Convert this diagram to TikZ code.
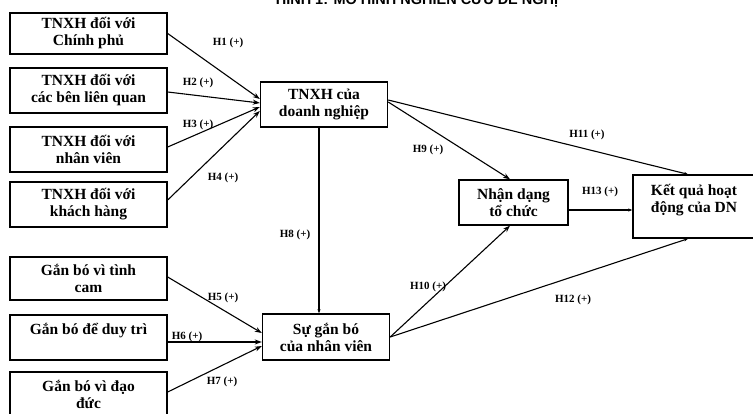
\documentclass[tikz,border=0pt]{standalone}
\usepackage{fontspec}
\setmainfont{Liberation Serif}
\setsansfont{Liberation Sans}
\usetikzlibrary{arrows.meta}
\tikzset{
  box/.style={draw, line width=1.4pt, rectangle, inner sep=0pt, align=center,
    font=\bfseries\fontsize{15.5}{17}\selectfont},
  lbox/.style={box, minimum width=157pt},
  lab/.style={font=\bfseries\fontsize{11}{12}\selectfont, inner sep=0pt},
  arr/.style={line width=1.1pt, -{Stealth[length=7pt,width=5pt]}},
  sarr/.style={line width=1.1pt, -{Stealth[length=4pt,width=3pt]}},
}
\begin{document}
\begin{tikzpicture}[x=1pt,y=-1pt]
\useasboundingbox[fill=white] (0,0) rectangle (753,414);
% title (cut at top, as in the reference)
\node[anchor=base, font=\sffamily\bfseries\fontsize{14.5}{17}\selectfont, inner sep=0pt] (title) at (417,5) {HÌNH 1: MÔ HÌNH NGHIÊN CỨU ĐỀ NGHỊ};
% left boxes
\node[lbox, minimum height=41pt] (b1) at (88.5,33.5) {TNXH đối với\\Chính phủ};
\node[lbox, minimum height=45pt] (b2) at (88.5,90.5) {TNXH đối với\\các bên liên quan};
\node[lbox, minimum height=45pt] (b3) at (88.5,149.5) {TNXH đối với\\nhân viên};
\node[lbox, minimum height=45pt] (b4) at (88.5,204.5) {TNXH đối với\\khách hàng};
\node[lbox, minimum height=43pt] (b5) at (88.5,278.5) {Gắn bó vì tình\\cam};
\node[lbox, minimum height=45pt] (b6) at (88.5,337.5) {Gắn bó để duy trì\\\mbox{}};
\node[lbox, minimum height=44pt] (b7) at (88.5,394) {Gắn bó vì đạo\\đức};
% middle
\node[box, minimum width=127pt, minimum height=45pt] (tn) at (324,104.5) {TNXH của\\doanh nghiệp};
\node[box, minimum width=127pt, minimum height=46pt] (sg) at (326,337) {Sự gắn bó\\của nhân viên};
\node[box, minimum width=109pt, minimum height=45pt] (nd) at (513.5,202.5) {Nhận dạng\\tổ chức};
\node[box, minimum width=122pt, minimum height=63pt] (kq) at (694,206.5) {Kết quả hoạt\\động của DN\\\mbox{}};
% arrows
\draw[arr] (b1.east) -- ([yshift=5.5pt]tn.west);
\draw[arr] ([yshift=-1.5pt]b2.east) -- ([yshift=1.5pt]tn.west);
\draw[arr] ([yshift=2.5pt]b3.east) -- ([yshift=-2.5pt]tn.west);
\draw[arr] ([yshift=4.5pt]b4.east) -- ([yshift=-6.5pt]tn.west);
\draw[arr] ([yshift=1.5pt]b5.east) -- ([yshift=4pt]sg.west);
\draw[arr] ([yshift=-4.5pt]b6.east) -- ([yshift=-5pt]sg.west);
\draw[arr] ([yshift=2pt]b7.east) -- ([yshift=-9pt]sg.west);
\draw[sarr] ([xshift=-5pt]tn.south) -- ([xshift=-7pt]sg.north);
\draw[arr] ([yshift=2.5pt]tn.east) -- ([xshift=-3.5pt]nd.north);
\draw[sarr] ([yshift=4.5pt]tn.east) -- ([xshift=-6pt]kq.north);
\draw[arr] (sg.east) -- ([xshift=-3.5pt]nd.south);
\draw[sarr] (sg.east) -- ([xshift=-6pt]kq.south);
\draw[sarr] ([yshift=-7.5pt]nd.east) -- ([yshift=-3.5pt]kq.west);
% labels
\node[lab] (l1) at (228,43) {H1 (+)};
\node[lab] (l2) at (198,83) {H2 (+)};
\node[lab] (l3) at (198,125) {H3 (+)};
\node[lab] (l4) at (223,178) {H4 (+)};
\node[lab] (l5) at (223,298) {H5 (+)};
\node[lab] (l6) at (187,337) {H6 (+)};
\node[lab] (l7) at (222,382) {H7 (+)};
\node[lab] (l8) at (295,235) {H8 (+)};
\node[lab] (l9) at (428,150) {H9 (+)};
\node[lab] (l10) at (428,287) {H10 (+)};
\node[lab] (l11) at (587,135) {H11 (+)};
\node[lab] (l12) at (573,300) {H12 (+)};
\node[lab] (l13) at (600,192) {H13 (+)};
\end{tikzpicture}
\end{document}
